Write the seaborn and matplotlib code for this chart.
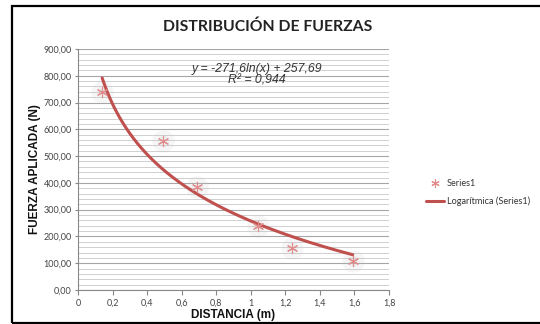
import numpy as np
import pandas as pd
import matplotlib
matplotlib.use("Agg")
import matplotlib.pyplot as plt
from matplotlib.ticker import MultipleLocator, FuncFormatter
from matplotlib.lines import Line2D
from matplotlib.patches import Rectangle
import seaborn as sns

# Measured force vs. distance
distancia = [0.14, 0.49, 0.69, 1.04, 1.24, 1.59]
fuerza = [740, 558, 384, 240, 158, 107]

# Logarithmic trendline: y = a*ln(x) + b
coef_a = -271.6
coef_b = 257.69
r2 = 0.944

title = "DISTRIBUCIÓN DE FUERZAS"
xlabel = "DISTANCIA (m)"
ylabel = "FUERZA APLICADA (N)"
serie = "Series1"
tendencia = "Logarítmica (Series1)"

sns.set_theme(style="white")
plt.rcParams["font.family"] = ["Lato", "DejaVu Sans"]

fig = plt.figure(figsize=(5.4, 3.24), dpi=100)
ax = fig.add_axes([0.1444, 0.1049, 0.7204 - 0.1444, 0.8488 - 0.1049])

df = pd.DataFrame({"x": distancia, "y": fuerza})
xt = np.linspace(min(distancia), max(distancia), 200)
trend = pd.DataFrame({"x": xt, "y": coef_a * np.log(xt) + coef_b})

red = "#c0504d"
pink = "#e08c8c"
asterisk = (6, 2, 0)

# soft halo under each marker
sns.scatterplot(data=df, x="x", y="y", ax=ax, s=260, color="#bbbbbb",
                alpha=0.12, linewidth=0, zorder=2, legend=False)
sns.scatterplot(data=df, x="x", y="y", ax=ax, s=70, color="#cccccc",
                alpha=0.18, linewidth=0, zorder=2, legend=False)
sns.scatterplot(data=df, x="x", y="y", ax=ax, marker=asterisk, s=55,
                color=pink, edgecolor=pink, linewidth=0.8, zorder=4,
                legend=False)
sns.lineplot(data=trend, x="x", y="y", ax=ax, color=red, linewidth=2.2,
             zorder=3, legend=False)

ax.set_xlim(0, 1.8)
ax.set_ylim(0, 900)
ax.xaxis.set_major_locator(MultipleLocator(0.2))
ax.yaxis.set_major_locator(MultipleLocator(100))
ax.yaxis.set_minor_locator(MultipleLocator(20))

ax.xaxis.set_major_formatter(FuncFormatter(
    lambda v, p: ("%g" % round(v, 1)).replace(".", ",")))
ax.yaxis.set_major_formatter(FuncFormatter(
    lambda v, p: ("%.2f" % v).replace(".", ",")))

ax.grid(which="major", axis="y", color="#a6a6a6", linewidth=0.8)
ax.grid(which="minor", axis="y", color="#d0d0d0", linewidth=0.7)
ax.set_axisbelow(True)

for s in ["top", "right"]:
    ax.spines[s].set_visible(False)
for s in ["left", "bottom"]:
    ax.spines[s].set_color("#888888")
    ax.spines[s].set_linewidth(0.8)

ax.tick_params(axis="both", which="major", labelsize=6.5, colors="#888888",
               labelcolor="#444444", width=0.8, direction="out",
               bottom=True, left=True)
ax.tick_params(axis="x", which="major", length=3.5, pad=3)
ax.tick_params(axis="y", which="major", length=2.5, pad=2)
ax.tick_params(axis="y", which="minor", length=0)

ax.set_xlabel(xlabel, fontsize=8.5, fontweight="bold",
              family="Liberation Sans", color="#111111")
ax.set_ylabel(ylabel, fontsize=8.5, fontweight="bold",
              family="Liberation Sans", color="#111111")
ax.xaxis.set_label_coords(0.5, -0.104)
ax.yaxis.set_label_coords(-0.138, 0.5)
ax.xaxis.label.set_va("center")
ax.yaxis.label.set_va("center")

fig.text(0.496, 0.917, title, ha="center", va="center", fontsize=11.3,
         fontweight="bold", color="#222222")

eq = "y = %sln(x) + %s" % (("%g" % coef_a).replace(".", ","),
                           ("%g" % coef_b).replace(".", ","))
ax.text(1.036, 825, eq, ha="center", va="center", fontsize=8.8,
        style="italic", family="Liberation Sans", color="#333333")
ax.text(1.036, 784, "R² = " + ("%g" % r2).replace(".", ","), ha="center",
        va="center", fontsize=8.8, style="italic", family="Liberation Sans",
        color="#333333")

handles = [
    Line2D([], [], marker=asterisk, linestyle="none", color=pink,
           markeredgecolor=pink, markersize=6, markeredgewidth=0.8),
    Line2D([], [], color=red, linewidth=2.2),
]
fig.legend(handles, [serie, tendencia], loc="center left",
           bbox_to_anchor=(0.773, 0.405), frameon=False, fontsize=6.6,
           handlelength=2.0, handletextpad=0.3, labelspacing=0.9,
           labelcolor="#333333")

# outer chart frame
fig.add_artist(Rectangle((12 / 540, 1.5 / 324), 1.2, 317 / 324,
                         transform=fig.transFigure, fill=False,
                         edgecolor="black", linewidth=1.6))

fig.savefig("out.png", dpi=100)
